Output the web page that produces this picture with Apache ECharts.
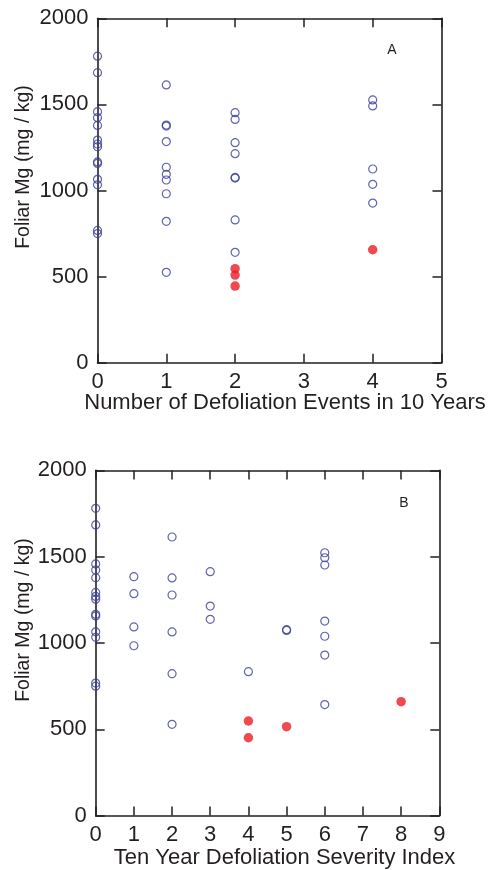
<!DOCTYPE html>
<html>
<head>
<meta charset="utf-8">
<script src="https://cdn.jsdelivr.net/npm/echarts@6/dist/echarts.min.js"></script>
<style>html,body{margin:0;padding:0;background:#fff;}#c{width:502px;height:870px;}</style>
</head>
<body>
<div id="c"></div>
<script>
// Panel A: number of defoliation events in 10 years
const eventsOpenX = [0,0,0,0,0,0,0,0,0,0,0,0,0,0, 1,1,1,1,1,1,1,1,1,1, 2,2,2,2,2,2,2,2, 4,4,4,4,4];
const eventsOpenY = [1780,1684,1458,1423,1378,1293,1270,1254,1166,1157,1065,1033,768,750,
  1613,1380,1374,1284,1135,1094,1061,981,821,525,
  1452,1413,1278,1214,1076,1072,829,641,
  1526,1491,1125,1036,927];
const eventsFilledX = [2,2,2,4];
const eventsFilledY = [546,509,445,656];

// Panel B: ten year defoliation severity index
const severityOpenX = [0,0,0,0,0,0,0,0,0,0,0,0,0,0, 1,1,1,1, 2,2,2,2,2,2, 3,3,3, 4, 5,5, 6,6,6,6,6,6,6];
const severityOpenY = [1780,1684,1458,1423,1378,1293,1270,1254,1166,1157,1065,1033,768,750,
  1384,1286,1093,984,
  1614,1377,1278,1064,822,529,
  1413,1214,1137,
  834,
  1077,1073,
  1523,1494,1452,1127,1039,930,643];
const severityFilledX = [4,4,5,8];
const severityFilledY = [548,451,515,660];

const titleA = 'Number of Defoliation Events in 10 Years';
const titleB = 'Ten Year Defoliation Severity Index';
const yTitle = 'Foliar Mg (mg / kg)';

const zip = (xs, ys) => xs.map((x, i) => [x, ys[i]]);
const ink = '#231f20';
const font = 'Liberation Sans, Arial, sans-serif';
const plain = v => String(v);

function xAxisPair(gi, max) {
  const base = {
    gridIndex: gi, type: 'value', min: 0, max: max, interval: 1,
    axisLine: {show: true, onZero: false, lineStyle: {color: ink, width: 1.6}},
    axisTick: {show: true, inside: true, length: 9, lineStyle: {color: ink, width: 1.5}},
    splitLine: {show: false}
  };
  return [
    Object.assign({}, base, {position: 'bottom',
      axisLabel: {show: true, margin: 8, fontSize: 22, color: ink, fontFamily: font, formatter: plain}}),
    Object.assign({}, base, {position: 'top', axisLabel: {show: false}})
  ];
}
function yAxisPair(gi) {
  const base = {
    gridIndex: gi, type: 'value', min: 0, max: 2000, interval: 500,
    axisLine: {show: true, onZero: false, lineStyle: {color: ink, width: 1.6}},
    axisTick: {show: true, inside: true, length: 9, lineStyle: {color: ink, width: 1.5}},
    splitLine: {show: false}
  };
  return [
    Object.assign({}, base, {position: 'left',
      axisLabel: {show: true, margin: 9, fontSize: 22, color: ink, fontFamily: font, formatter: plain}}),
    Object.assign({}, base, {position: 'right', axisLabel: {show: false}})
  ];
}

const openStyle = {color: 'rgba(0,0,0,0)', borderColor: '#3a3d9c', borderWidth: 1.2};
const filledStyle = {color: '#ec1c24', borderColor: '#ec1c24', borderWidth: 0};

const chart = echarts.init(document.getElementById('c'), null, {renderer: 'canvas'});
chart.setOption({
  animation: false,
  backgroundColor: '#fff',
  grid: [
    {left: 97.5, top: 18.3, width: 344, height: 344.4},
    {left: 95.7, top: 470.4, width: 343.6, height: 345.2}
  ],
  xAxis: [].concat(xAxisPair(0, 5), xAxisPair(1, 9)),
  yAxis: [].concat(yAxisPair(0), yAxisPair(1)),
  series: [
    {type: 'scatter', xAxisIndex: 0, yAxisIndex: 0, symbol: 'circle', symbolSize: 8,
      itemStyle: openStyle, data: zip(eventsOpenX, eventsOpenY)},
    {type: 'scatter', xAxisIndex: 0, yAxisIndex: 0, symbol: 'circle', symbolSize: 9.5,
      itemStyle: filledStyle, data: zip(eventsFilledX, eventsFilledY)},
    {type: 'scatter', xAxisIndex: 2, yAxisIndex: 2, symbol: 'circle', symbolSize: 8,
      itemStyle: openStyle, data: zip(severityOpenX, severityOpenY)},
    {type: 'scatter', xAxisIndex: 2, yAxisIndex: 2, symbol: 'circle', symbolSize: 9.5,
      itemStyle: filledStyle, data: zip(severityFilledX, severityFilledY)}
  ],
  graphic: [
    {type: 'text', x: 285, y: 402.7, style: {text: titleA, fontSize: 22, fill: ink, fontFamily: font, textAlign: 'center', textVerticalAlign: 'middle'}},
    {type: 'text', x: 284.5, y: 858, style: {text: titleB, fontSize: 22, fill: ink, fontFamily: font, textAlign: 'center', textVerticalAlign: 'middle'}},
    {type: 'text', x: 24, y: 167, rotation: Math.PI / 2, style: {text: yTitle, fontSize: 19.5, fill: ink, fontFamily: font, textAlign: 'center', textVerticalAlign: 'middle'}},
    {type: 'text', x: 24, y: 620, rotation: Math.PI / 2, style: {text: yTitle, fontSize: 19.5, fill: ink, fontFamily: font, textAlign: 'center', textVerticalAlign: 'middle'}},
    {type: 'text', x: 392, y: 50, style: {text: 'A', fontSize: 14, fill: ink, fontFamily: font, textAlign: 'center', textVerticalAlign: 'middle'}},
    {type: 'text', x: 404, y: 503, style: {text: 'B', fontSize: 14, fill: ink, fontFamily: font, textAlign: 'center', textVerticalAlign: 'middle'}}
  ]
});
</script>
</body>
</html>
